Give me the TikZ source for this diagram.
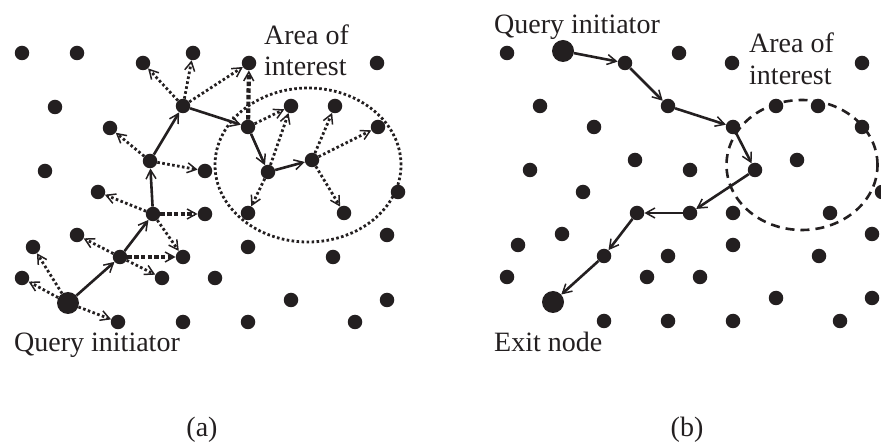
\documentclass[tikz,border=0pt]{standalone}
\usepackage{fontspec}
\setmainfont{Liberation Serif}
\usetikzlibrary{arrows.meta,shapes.geometric}
\definecolor{ink}{HTML}{231F20}
\begin{document}
\begin{tikzpicture}[x=1pt,y=-1pt,
  dot/.style={circle, fill=ink, draw=none, inner sep=0pt, minimum size=14.5pt},
  bigdot/.style={dot, minimum size=22pt},
  barb/.style={-{Straight Barb[length=9pt,width=10pt,line width=1.5pt]}},
  hop/.style={draw=ink, line width=2.6pt, barb},
  probe/.style={draw=ink, line width=2.8pt, dash pattern=on 2.6pt off 2.4pt, barb},
  probeheavy/.style={draw=ink, line width=4.2pt, dash pattern=on 4.5pt off 2.2pt, barb},
  lbl/.style={font=\fontsize{28}{31}\selectfont, text=ink, inner sep=0pt}]
\useasboundingbox (0,0) rectangle (881,443);

% ---------- (a) flooding of probes towards the area of interest ----------
\node[ellipse, draw=ink, line width=2.8pt, dash pattern=on 2.6pt off 2.4pt,
      minimum width=186pt, minimum height=154pt, inner sep=0pt] (aoiA) at (308,165) {};

\node[dot] (a1) at (22,53) {};
\node[dot] (a2) at (77,53) {};
\node[dot] (a3) at (143,63) {};
\node[dot] (a4) at (193,53) {};
\node[dot] (a5) at (249,63) {};
\node[dot] (a6) at (377,63) {};
\node[dot] (a7) at (55,107) {};
\node[dot] (a8) at (110,128) {};
\node[dot] (h3) at (183,106) {};
\node[dot] (a10) at (291,106) {};
\node[dot] (a11) at (335,106) {};
\node[dot] (h4) at (248,127) {};
\node[dot] (a13) at (378,127) {};
\node[dot] (a14) at (45,171) {};
\node[dot] (h2) at (150,161) {};
\node[dot] (a16) at (205,171) {};
\node[dot] (h5) at (268,172) {};
\node[dot] (h6) at (312,160) {};
\node[dot] (a19) at (98,192) {};
\node[dot] (a20) at (398,192) {};
\node[dot] (hB) at (153,214) {};
\node[dot] (a22) at (205,214) {};
\node[dot] (a23) at (248,213) {};
\node[dot] (a24) at (344,213) {};
\node[dot] (a25) at (77,235) {};
\node[dot] (a26) at (387,235) {};
\node[dot] (a27) at (33,247) {};
\node[dot] (a28) at (248,247) {};
\node[dot] (hA) at (120,257) {};
\node[dot] (a30) at (183,257) {};
\node[dot] (a31) at (333,257) {};
\node[dot] (a32) at (22,278) {};
\node[dot] (a33) at (162,278) {};
\node[dot] (a34) at (215,278) {};
\node[bigdot] (qa) at (68,303) {};
\node[dot] (a36) at (291,300) {};
\node[dot] (a37) at (387,300) {};
\node[dot] (a38) at (118,322) {};
\node[dot] (a39) at (183,322) {};
\node[dot] (a40) at (248,322) {};
\node[dot] (a41) at (355,322) {};

% forwarding path
\draw[hop] (qa) -- (hA);
\draw[hop] (hA) -- (hB);
\draw[hop] (hB) -- (h2);
\draw[hop] (h2) -- (h3);
\draw[hop] (h3) -- (h4);
\draw[hop] (h4) -- (h5);
\draw[hop] (h5) -- (h6);

% probes
\draw[probe] (qa) -- (a32);
\draw[probe] (qa) -- (a27);
\draw[probe] (qa) -- (a38);
\draw[probe] (hA) -- (a25);
\draw[probeheavy] (hA) -- (a30);
\draw[probe] (hA) -- (a33);
\draw[probe] (hB) -- (a19);
\draw[probeheavy] (hB) -- (a22);
\draw[probe] (hB) -- (a30);
\draw[probe] (h2) -- (a8);
\draw[probe] (h2) -- (a16);
\draw[probe] (h3) -- (a3);
\draw[probe] (h3) -- (a4);
\draw[probe] (h3) -- (a5);
\draw[probeheavy] (h4) -- (a5);
\draw[probe] (h4) -- (a10);
\draw[probe] (h5) -- (a10);
\draw[probe] (h5) -- (a23);
\draw[probe] (h6) -- (a11);
\draw[probe] (h6) -- (a13);
\draw[probe] (h6) -- (a24);

\node[lbl, anchor=base west] (areaA1) at (264,45) {Area of};
\node[lbl, anchor=base west] (areaA2) at (264,76) {interest};
\node[lbl, anchor=base west] (qlabA) at (14,352) {Query initiator};

% ---------- (b) route from the initiator through the area to the exit ----------
\node[ellipse, draw=ink, line width=2.6pt, dash pattern=on 9pt off 6pt,
      minimum width=151pt, minimum height=130pt, inner sep=0pt] (aoiB) at (802,165) {};

\node[dot] (b1) at (507,53) {};
\node[bigdot] (qb) at (563,51) {};
\node[dot] (p1) at (625,63) {};
\node[dot] (b4) at (679,53) {};
\node[dot] (b5) at (732,63) {};
\node[dot] (b6) at (862,63) {};
\node[dot] (b7) at (540,106) {};
\node[dot] (p2) at (668,106) {};
\node[dot] (b9) at (776,106) {};
\node[dot] (b10) at (818,106) {};
\node[dot] (b11) at (594,127) {};
\node[dot] (p3) at (733,127) {};
\node[dot] (b13) at (862,127) {};
\node[dot] (b14) at (530,170) {};
\node[dot] (b15) at (635,160) {};
\node[dot] (b16) at (690,170) {};
\node[dot] (p4) at (755,170) {};
\node[dot] (b18) at (797,160) {};
\node[dot] (b19) at (583,192) {};
\node[dot] (b20) at (882,192) {};
\node[dot] (p6) at (637,213) {};
\node[dot] (p5) at (690,213) {};
\node[dot] (b24) at (733,213) {};
\node[dot] (b25) at (830,213) {};
\node[dot] (b26) at (562,234) {};
\node[dot] (b27) at (872,234) {};
\node[dot] (b28) at (518,245) {};
\node[dot] (b29) at (733,245) {};
\node[dot] (p7) at (604,256) {};
\node[dot] (b31) at (668,256) {};
\node[dot] (b32) at (819,256) {};
\node[dot] (b33) at (507,277) {};
\node[dot] (b34) at (647,277) {};
\node[dot] (b35) at (700,277) {};
\node[dot] (b36) at (776,298) {};
\node[dot] (b37) at (872,298) {};
\node[bigdot] (eb) at (553,302) {};
\node[dot] (b39) at (604,321) {};
\node[dot] (b40) at (668,321) {};
\node[dot] (b41) at (733,321) {};
\node[dot] (b42) at (840,321) {};

\draw[hop] (qb) -- (p1);
\draw[hop] (p1) -- (p2);
\draw[hop] (p2) -- (p3);
\draw[hop] (p3) -- (p4);
\draw[hop] (p4) -- (p5);
\draw[hop] (p5) -- (p6);
\draw[hop] (p6) -- (p7);
\draw[hop] (p7) -- (eb);

\node[lbl, anchor=base west] (qlabB) at (494,34) {Query initiator};
\node[lbl, anchor=base west] (areaB1) at (749,53) {Area of};
\node[lbl, anchor=base west] (areaB2) at (749,85) {interest};
\node[lbl, anchor=base west] (exitlab) at (494,352) {Exit node};

\node[lbl, anchor=base] (capA) at (202,437) {(a)};
\node[lbl, anchor=base] (capB) at (687,437) {(b)};
\end{tikzpicture}
\end{document}
